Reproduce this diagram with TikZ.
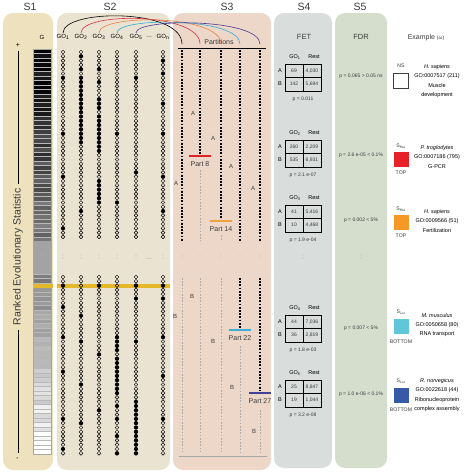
\documentclass[tikz,border=0pt]{standalone}
\usepackage{fontspec}
\setmainfont{Liberation Sans}
\usepackage{tikz}
\usetikzlibrary{arrows}
\definecolor{panel_tan}{RGB}{237,225,190}
\definecolor{panel_beige}{RGB}{235,227,210}
\definecolor{panel_pink}{RGB}{236,215,200}
\definecolor{panel_gray}{RGB}{217,221,219}
\definecolor{panel_green}{RGB}{213,222,205}
\definecolor{band_yellow}{RGB}{228,184,40}
\definecolor{text_gray}{RGB}{60,60,60}
\definecolor{arc_red}{RGB}{214,48,64}
\definecolor{arc_orange}{RGB}{236,128,72}
\definecolor{arc_cyan}{RGB}{48,170,214}
\definecolor{arc_navy}{RGB}{72,56,150}
\definecolor{part_red}{RGB}{226,35,40}
\definecolor{part_orange}{RGB}{240,160,60}
\definecolor{part_cyan}{RGB}{60,175,215}
\definecolor{part_navy}{RGB}{65,65,150}
\definecolor{ex_red}{RGB}{232,32,40}
\definecolor{ex_orange}{RGB}{246,152,38}
\definecolor{ex_cyan}{RGB}{96,198,218}
\definecolor{ex_blue}{RGB}{56,88,168}

\begin{document}
\begin{tikzpicture}[x=1pt,y=-1pt,semithick]
    \tikzstyle{panel}=[rounded corners=10pt]
    \tikzstyle{head}=[font=\fontsize{10.5}{12}\selectfont, text=text_gray]
    \tikzstyle{golab}=[font=\fontsize{6}{7}\selectfont, inner sep=1pt]
    \tikzstyle{dot}=[line width=0.45pt]
    \tikzstyle{inpart}=[line width=1.7pt, dash pattern=on 1.8pt off 1.4pt]
    \tikzstyle{outpart}=[line width=0.9pt, gray!65, dash pattern=on 1.6pt off 1.6pt]
    \tikzstyle{bar}=[line width=2.6pt]
    \tikzstyle{ablab}=[font=\fontsize{6}{7}\selectfont, text=text_gray]
    \tikzstyle{partlab}=[font=\fontsize{7}{8}\selectfont, text=text_gray]
    \tikzstyle{cell}=[font=\fontsize{5}{6}\selectfont, text=text_gray]
    \tikzstyle{pval}=[font=\fontsize{5}{6}\selectfont, text=text_gray]
    \tikzstyle{small}=[font=\fontsize{5.5}{9.2}\selectfont, align=center]
    \tikzstyle{tag}=[font=\fontsize{5.2}{6}\selectfont, text=text_gray]
    \tikzstyle{swatch}=[minimum size=15pt, inner sep=0pt]
    \tikzstyle{gapdots}=[gray, line width=0.9pt, line cap=round, dash pattern=on 0pt off 3pt]

    \useasboundingbox (0,0) rectangle (466,474);

    \fill[panel,panel_tan]   (3,13)   rectangle (53,470);
    \fill[panel,panel_beige] (57,13)  rectangle (170,470);
    \fill[panel,panel_pink]  (173,13) rectangle (271,470);
    \fill[panel,panel_gray]  (274,13) rectangle (332,468);
    \fill[panel,panel_green] (335,13) rectangle (387,468);

    \node[head] (sone) at (30,7) {S1};
    \node[head] (stwo) at (110,7) {S2};
    \node[head] (sthree) at (227,7) {S3};
    \node[head] (sfour) at (304,7) {S4};
    \node[head] (sfive) at (360,7) {S5};

    % S1: ranked genes
    \node[font=\fontsize{7}{8}\selectfont] (plus) at (18,45) {+};
    \node[font=\fontsize{7}{8}\selectfont, rotate=90] (minus) at (18,458) {-};
    \node[font=\fontsize{10.5}{12}\selectfont, text=text_gray, rotate=90, inner xsep=4pt] (axis) at (18,257) {Ranked Evolutionary Statistic};
    \draw[line width=0.7pt] (plus.south) -- (axis.east);
    \draw[line width=0.7pt] (axis.west) -- (minus.east);
    \node[golab] (gcol) at (42,37) {G};
    \pgfmathsetseed{42}
    \foreach \i in {0,...,42}{
      \pgfmathsetmacro{\shd}{min(100,max(0,100-48*\i/42+9*rand))}
      \fill[black!\shd] (33,49+4.47*\i) rectangle +(18,4.47);
    }
    \fill[black!36] (33,241) rectangle (51,274);
    \foreach \i in {0,...,39}{
      \pgfmathsetmacro{\shd}{min(100,max(0,50-50*\i/39+7*rand))}
      \fill[black!\shd] (33,274+4.5*\i) rectangle +(18,4.5);
    }
    \foreach \i in {1,...,42} \draw[gray!55, line width=0.3pt] (33,49+4.47*\i) -- (51,49+4.47*\i);
    \foreach \i in {0,...,39} \draw[gray!55, line width=0.3pt] (33,274+4.5*\i) -- (51,274+4.5*\i);
    \draw[gray!70, line width=0.4pt] (33,49) rectangle (51,454);
    \draw[gapdots, gray!25] (42,255) -- (42,261);

    \fill[band_yellow] (33,284) rectangle (53,288);
    \fill[band_yellow] (57,284) rectangle (170,288);

    % S2: GO categories
    \foreach \x/\lab/\up/\lo in {
      63/1/{6,19,29,41}/{2,7,14,22,33,40},
      81/2/{1,4,6,7,...,21,37}/{9,15,25,34},
      99/3/{4,7,11,12,13,15,16,...,23,30,31,...,35}/{2,18,31},
      117/4/{19,35}/{14,15,16,17,19,20,...,27,30,33,37,41},
      136/5/{6,28}/{2,5,15,29,30,...,41},
      163/n/{2,5,12,19,29,37}/{2,5,14,23,33}}
    {
      \node[golab] (go\lab) at (\x,37) {GO\textsubscript{\lab}};
      \foreach \i in {0,...,43} \draw[dot] (\x,52+4.3*\i) circle[radius=1.9pt];
      \foreach \i in {0,...,41} \draw[dot] (\x,277+4.3*\i) circle[radius=1.9pt];
      \foreach \i in \up \fill (\x,52+4.3*\i) circle[radius=2.1pt];
      \foreach \i in \lo \fill (\x,277+4.3*\i) circle[radius=2.1pt];
      \draw[gapdots] (\x,255) -- (\x,261);
    }
    \node[golab] (godots) at (149,37) {\dots};
    \node[golab, text=gray] (gapdots) at (149,259) {\dots};

    % S3: partitions
    \coordinate (pin1) at (182,44);
    \coordinate (pin2) at (200,44);
    \coordinate (pin3) at (221,44);
    \coordinate (pin4) at (240,44);
    \coordinate (pin5) at (260,44);
    \draw[black] (go1.north) .. controls +(0,-24) and +(0,-36) .. (pin1);
    \draw[arc_red] (go2.north) .. controls +(0,-21) and +(0,-32) .. (pin2);
    \draw[arc_orange] (go3.north) .. controls +(0,-19) and +(0,-30) .. (pin3);
    \draw[arc_cyan] (go4.north) .. controls +(0,-16) and +(0,-27) .. (pin4);
    \draw[arc_navy] (go5.north) .. controls +(0,-15) and +(0,-26) .. (pin5);
    \node[partlab] (parts) at (219,42) {Partitions};
    \draw[line width=0.8pt] (178,48) -- (266,48);

    \draw[inpart] (182,50) -- (182,241);
    \draw[outpart] (182,278) -- (182,452);

    \draw[inpart] (200,50) -- (200,154);
    \draw[outpart] (200,170) -- (200,241);
    \draw[outpart] (200,278) -- (200,452);
    \draw[bar, part_red] (189,156) -- (211,156);
    \node[partlab] (cut8) at (200,164) {Part 8};

    \draw[inpart] (221,50) -- (221,219);
    \draw[outpart] (221,235) -- (221,241);
    \draw[outpart] (221,278) -- (221,452);
    \draw[bar, part_orange] (210,221) -- (232,221);
    \node[partlab] (cut14) at (221,229) {Part 14};

    \draw[inpart] (240,50) -- (240,241);
    \draw[inpart] (240,278) -- (240,328);
    \draw[outpart] (240,346) -- (240,452);
    \draw[bar, part_cyan] (229,330) -- (251,330);
    \node[partlab] (cut22) at (240,338) {Part 22};

    \draw[inpart] (260,50) -- (260,241);
    \draw[inpart] (260,278) -- (260,391);
    \draw[outpart] (260,410) -- (260,452);
    \draw[bar, part_navy] (249,393) -- (271,393);
    \node[partlab] (cut27) at (260,401) {Part 27};

    \foreach \x in {182,200,221,240,260} \draw[gapdots, gray!70] (\x,255) -- (\x,261);
    \draw[gray!70, line width=0.8pt] (179,456) -- (267,456);

    \foreach \x/\y in {176/183,193/113,213/138,231/166,253/188} \node[ablab] at (\x,\y) {A};
    \foreach \x/\y in {175/316,192/296,213/341,232/387,254/431} \node[ablab] at (\x,\y) {B};

    % S4: Fisher's exact test
    \node[font=\fontsize{7.5}{8}\selectfont, text=text_gray] (fet) at (304,37) {FET};
    \foreach \n/\y/\aa/\ab/\ba/\bb/\p in {
      1/57/69/{4,030}/142/{5,694}/{0.011},
      2/133/260/{2,209}/535/{6,931}/{2.1 e-07},
      3/198/41/{5,416}/10/{4,468}/{1.9 e-04},
      4/308/44/{7,036}/36/{2,819}/{1.8 e-03},
      5/373/25/{8,847}/19/{1,044}/{3.2 e-08}}
    {
      \node[small] (hgo\n) at (295,\y) {GO\textsubscript{\n}};
      \node[small] (hrest\n) at (314,\y) {Rest};
      \draw[line width=0.6pt] (285,\y+7) rectangle (321,\y+34);
      \draw[line width=0.6pt] (303,\y+7) -- (303,\y+34) (285,\y+20.5) -- (321,\y+20.5);
      \node[small] at (280,\y+14) {A};
      \node[small] at (280,\y+27) {B};
      \node[cell] at (294,\y+14) {\aa};
      \node[cell] at (312,\y+14) {\ab};
      \node[cell] at (294,\y+27) {\ba};
      \node[cell] at (312,\y+27) {\bb};
      \node[pval] (pf\n) at (303,\y+42) {p = \p};
    }
    \draw[gapdots] (303,255) -- (303,261);

    % S5: false discovery rate
    \node[font=\fontsize{7.5}{8}\selectfont, text=text_gray] (fdr) at (361,37) {FDR};
    \node[pval] (q1) at (361,76) {p = 0.065 > 0.05 ns};
    \node[pval] (q2) at (361,155) {p = 2.6 e-05 < 0.1\%};
    \node[pval] (q3) at (361,220) {p = 0.002 < 5\%};
    \draw[gapdots] (361,255) -- (361,261);
    \node[pval] (q4) at (361,328) {p = 0.007 < 5\%};
    \node[pval] (q5) at (361,394) {p = 1.0 e-06 < 0.1\%};

    % examples
    \node[font=\fontsize{7}{8}\selectfont, text=text_gray] (example) at (426,38) {Example {\fontsize{5}{6}\selectfont(ω)}};

    \node[tag] at (401,66) {NS};
    \node[swatch, draw=black!75, line width=1pt, fill=white] (ex1) at (401,81) {};
    \node[small] (txt1) at (437,81) {\textit{H. sapiens}\\GO:0007517 (211)\\Muscle\\development};

    \node[tag] at (401,146) {S\textsubscript{Hω}};
    \node[swatch, fill=ex_red] (ex2) at (401,159) {};
    \node[tag] at (401,173) {TOP};
    \node[small] (txt2) at (437,157) {\textit{P. troglodytes}\\GO:0007186 (795)\\G-PCR};

    \node[tag] at (401,209) {S\textsubscript{Hω}};
    \node[swatch, fill=ex_orange] (ex3) at (401,222) {};
    \node[tag] at (401,236) {TOP};
    \node[small] (txt3) at (437,221) {\textit{H. sapiens}\\GO:0009566 (51)\\Fertilization};

    \node[tag] at (401,312) {S\textsubscript{Lω}};
    \node[swatch, fill=ex_cyan] (ex4) at (401,326) {};
    \node[tag] at (401,342) {BOTTOM};
    \node[small] (txt4) at (437,325) {\textit{M. musculus}\\GO:0050658 (80)\\RNA transport};

    \node[tag] at (401,381) {S\textsubscript{Lω}};
    \node[swatch, fill=ex_blue] (ex5) at (401,395) {};
    \node[tag] at (401,410) {BOTTOM};
    \node[small] (txt5) at (437,395) {\textit{R. norvegicus}\\GO:0022618 (44)\\Ribonucleoprotein\\complex assembly};
\end{tikzpicture}
\end{document}
